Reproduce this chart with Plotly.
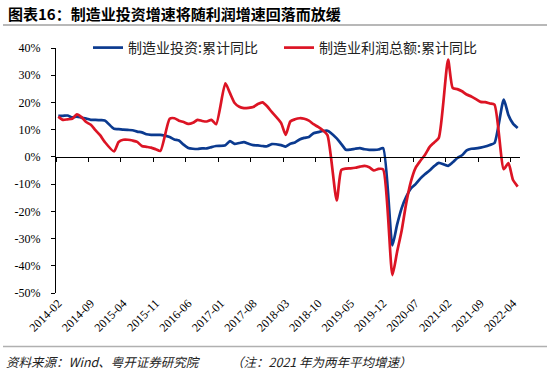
import plotly.graph_objects as go

# Monthly categories 2014-02 .. 2022-05 (January values missing in source)
months = []
y, m = 2014, 2
while (y, m) <= (2022, 5):
    months.append(f"{y}-{m:02d}")
    m += 1
    if m > 12:
        y, m = y + 1, 1

invest = [15.1, 15.1, 15.2, 14.5, 14.8, 14.4, 14.1, 13.6, 13.6, 13.5, 13.4, None,
          10.3, 10.2, 10.0, 9.9, 9.8, 9.3, 9.0, 8.3, 8.1, 8.1, 8.1, None,
          7.3, 6.4, 6.0, 4.5, 3.3, 3.0, 2.9, 3.1, 3.1, 3.6, 4.0, None,
          4.3, 5.8, 4.8, 5.1, 5.4, 4.8, 4.3, 4.2, 4.0, 3.9, 4.7, None,
          4.3, 3.8, 4.8, 5.3, 6.4, 7.0, 7.3, 8.7, 9.1, 9.5, 9.6, None,
          6.8, 4.7, 2.6, 2.7, 3.0, 3.2, 2.8, 2.6, 2.6, 2.7, 3.2, None,
          -32.5, -25.0, -18.8, -14.6, -11.6, -10.0, -8.0, -6.4, -5.0, -3.4, -2.2, None,
          -3.3, -2.0, -0.4, 0.6, 2.4, 3.0, 3.1, 3.4, 3.8, 4.4, 5.1, None,
          21.0, 15.4, 12.2, 10.6]

profit = [14.8, 13.6, 13.8, 14.0, 15.6, 14.6, 12.8, 11.8, 9.8, 8.0, 5.5, None,
          2.0, 5.5, 6.3, 6.3, 6.0, 5.5, 4.0, 3.7, 3.4, 2.8, 2.2, None,
          14.0, 14.2, 13.3, 12.8, 12.1, 12.5, 13.6, 13.2, 13.0, 13.6, 12.0, None,
          27.0, 23.4, 19.8, 18.4, 17.9, 18.0, 18.3, 19.4, 20.0, 18.6, 16.5, None,
          12.5, 8.1, 13.0, 13.8, 14.2, 14.0, 13.3, 12.0, 11.0, 9.8, 8.0, None,
          -16.0, -4.8, -4.3, -4.2, -4.0, -3.6, -3.3, -3.8, -5.0, -4.4, -4.6, None,
          -43.4, -35.0, -27.0, -16.8, -9.0, -4.0, -1.5, 0.7, 3.6, 5.3, 7.0, None,
          35.7, 25.3, 24.9, 24.1, 22.9, 22.2, 21.2, 20.2, 20.1, 19.6, 19.2, None,
          -4.5, -2.3, -8.5, -10.9]

tick_labels = ["2014-02", "2014-09", "2015-04", "2015-11", "2016-06", "2017-01", "2017-08",
               "2018-03", "2018-10", "2019-05", "2019-12", "2020-07", "2021-02", "2021-09", "2022-04"]
y_ticks = [-50, -40, -30, -20, -10, 0, 10, 20, 30, 40]
y_text = [f"{v}%" for v in y_ticks]

name_invest = "制造业投资:累计同比"
name_profit = "制造业利润总额:累计同比"

BLUE = "#0b3a8f"
RED = "#dc1424"
SERIF = "Liberation Serif, Times New Roman, serif"
CJK = "Noto Sans CJK SC"

fig = go.Figure()
fig.add_trace(go.Scatter(x=months, y=invest, mode="lines", name=name_invest, legend="legend",
                         connectgaps=True, line=dict(color=BLUE, width=2.7, shape="spline", smoothing=0.6)))
fig.add_trace(go.Scatter(x=months, y=profit, mode="lines", name=name_profit, legend="legend2",
                         connectgaps=True, line=dict(color=RED, width=2.7, shape="spline", smoothing=0.6)))
# helper trace for the zero-line axis with boundary tick marks
n = len(months)
fig.add_trace(go.Scatter(x=[0, n - 1], y=[None, None], xaxis="x2", yaxis="y",
                         showlegend=False, hoverinfo="skip", mode="lines"))

tick_idx = [months.index(t) for t in tick_labels]
boundary = [i - 0.5 for i in tick_idx]

legend_style = dict(orientation="h", y=1.0, xanchor="left", yanchor="middle",
                    font=dict(family=CJK, size=14, color="#222"), bgcolor="rgba(0,0,0,0)",
                    itemwidth=30)

fig.update_layout(
    width=550, height=377,
    margin=dict(l=56, r=30, t=48, b=84, autoexpand=False),
    paper_bgcolor="white", plot_bgcolor="white",
    showlegend=True,
    legend=dict(x=(88 - 56) / 464, **legend_style),
    legend2=dict(x=(279 - 56) / 464, **legend_style),
    xaxis=dict(type="category", range=[-0.5, n - 0.5], tickmode="array",
               tickvals=tick_labels, ticktext=tick_labels, tickangle=-45, automargin=False,
               showline=False, ticks="", showgrid=False, zeroline=False,
               tickfont=dict(family=SERIF, size=12, color="black")),
    xaxis2=dict(overlaying="x", anchor="free", position=50 / 90, side="bottom",
                range=[-0.5, n - 0.5], tickmode="array", tickvals=boundary,
                showticklabels=False, ticks="outside", ticklen=4, tickcolor="black",
                showline=True, linecolor="black", linewidth=1, showgrid=False, zeroline=False),
    yaxis=dict(range=[-50, 40], tickmode="array", tickvals=y_ticks, ticktext=y_text,
               showline=True, linecolor="black", linewidth=1, ticks="outside", ticklen=4,
               tickcolor="black", showgrid=False, zeroline=False, ticklabelstandoff=8,
               automargin=False, tickfont=dict(family=SERIF, size=12, color="black")),
)

H = 245.0
def py(p):
    return (377 - 84 - p) / H
def px(p):
    return (p - 56) / 464.0

fig.add_annotation(text="<b>图表16：制造业投资增速将随利润增速回落而放缓</b>", xref="paper", yref="paper",
                   x=px(6), y=py(14), xanchor="left", yanchor="middle", showarrow=False,
                   font=dict(family=CJK, size=15, color="black"))
fig.add_shape(type="line", xref="paper", yref="paper", x0=px(3), x1=px(547), y0=py(25), y1=py(25),
              line=dict(color="#a0a0a0", width=1.5))
fig.add_shape(type="line", xref="paper", yref="paper", x0=px(3), x1=px(547), y0=py(346.5), y1=py(346.5),
              line=dict(color="#b0b0b0", width=1.5))
fig.add_annotation(text="<i>资料来源：Wind、粤开证券研究院</i>", xref="paper", yref="paper",
                   x=px(4), y=py(361), xanchor="left", yanchor="middle", showarrow=False,
                   font=dict(family=CJK, size=12.5, color="#222"))
fig.add_annotation(text="<i>（注：2021 年为两年平均增速）</i>", xref="paper", yref="paper",
                   x=px(229), y=py(361), xanchor="left", yanchor="middle", showarrow=False,
                   font=dict(family=CJK, size=12.5, color="#222"))

fig.write_html("out.html", config={"displayModeBar": False},
               post_script="document.body.style.margin='0';document.body.style.overflow='hidden';")
